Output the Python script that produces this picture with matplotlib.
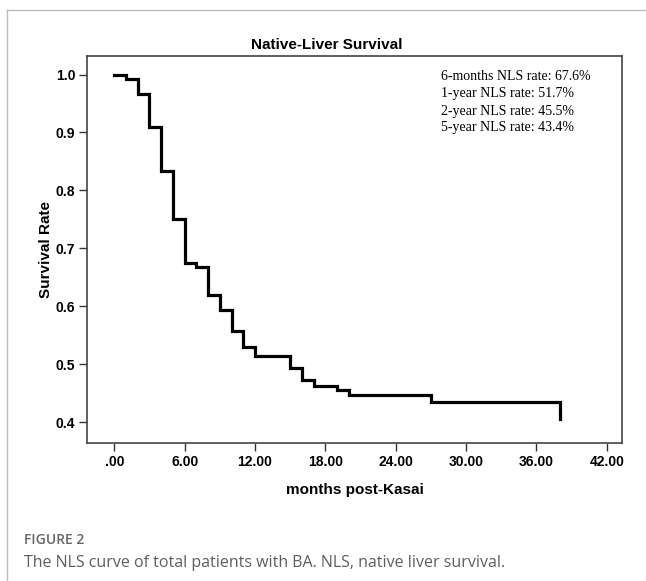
import matplotlib
matplotlib.use("Agg")
import matplotlib.pyplot as plt
from matplotlib.lines import Line2D

# Kaplan-Meier native-liver survival
months = [0, 1, 2, 3, 4, 5, 6, 7, 8, 9, 10, 11, 12, 15, 16, 17, 19, 20, 27, 38]
survival = [1.0, 0.993, 0.966, 0.910, 0.834, 0.751, 0.675, 0.668, 0.620, 0.593,
            0.557, 0.530, 0.515, 0.493, 0.472, 0.463, 0.455, 0.446, 0.434, 0.405]

x_ticks = [0, 6, 12, 18, 24, 30, 36, 42]
x_ticklabels = [".00", "6.00", "12.00", "18.00", "24.00", "30.00", "36.00", "42.00"]
y_ticks = [0.4, 0.5, 0.6, 0.7, 0.8, 0.9, 1.0]
y_ticklabels = ["0.4", "0.5", "0.6", "0.7", "0.8", "0.9", "1.0"]

rates = [
    "6-months NLS rate: 67.6%",
    "1-year NLS rate: 51.7%",
    "2-year NLS rate: 45.5%",
    "5-year NLS rate: 43.4%",
]

W, H = 646, 581
fig = plt.figure(figsize=(W / 100, H / 100), dpi=100)


def fx(px):
    return px / W


def fy(py):
    return 1 - py / H


sans = ["Liberation Sans", "DejaVu Sans"]
narrow = ["Liberation Sans Narrow", "Liberation Sans", "DejaVu Sans"]

ax = fig.add_axes([fx(87), fy(443), fx(622) - fx(87), fy(56) - fy(443)])
ax.plot(months, survival, drawstyle="steps-post", color="black", lw=2.3,
        solid_joinstyle="miter")

ax.set_xlim(-2.33, 43.3)
ax.set_ylim(0.364, 1.032)
ax.set_xticks(x_ticks)
ax.set_xticklabels(x_ticklabels)
ax.set_yticks(y_ticks)
ax.set_yticklabels(y_ticklabels)
ax.tick_params(direction="out", length=5.5, width=1, color="#333333", pad=3)
for lab in ax.get_xticklabels() + ax.get_yticklabels():
    lab.set_family(narrow)
    lab.set_fontweight("bold")
    lab.set_fontsize(10)
for s in ax.spines.values():
    s.set_color("#444444")
    s.set_linewidth(1.2)

ax.set_xlabel("months post-Kasai", family=sans, fontweight="bold", fontsize=11, labelpad=10)
ax.set_ylabel("Survival Rate", family=sans, fontweight="bold", fontsize=11, labelpad=2)

fig.text(fx(327), fy(45), "Native-Liver Survival", family=sans, fontweight="bold",
         fontsize=11, ha="center", va="center")

for i, t in enumerate(rates):
    fig.text(fx(441), fy(77 + 17 * i), t, family=["Liberation Serif", "DejaVu Serif"],
             fontsize=10, ha="left", va="center")

# outer figure frame (open at right and bottom)
fig.add_artist(Line2D([fx(7), fx(7)], [fy(10), 0], color="#bbbbbb", lw=1))
fig.add_artist(Line2D([fx(7), 1], [fy(10), fy(10)], color="#bbbbbb", lw=1))

fig.text(fx(24), fy(540), "FIGURE 2", family=["Open Sans", "DejaVu Sans"],
         fontsize=10, fontweight="semibold", color="#666666", ha="left", va="center")
fig.text(fx(24), fy(563), "The NLS curve of total patients with BA. NLS, native liver survival.",
         family=["Open Sans", "DejaVu Sans"], fontsize=11.5, color="#5e5e5e",
         ha="left", va="center")

fig.savefig("out.png", dpi=100, facecolor="white")
